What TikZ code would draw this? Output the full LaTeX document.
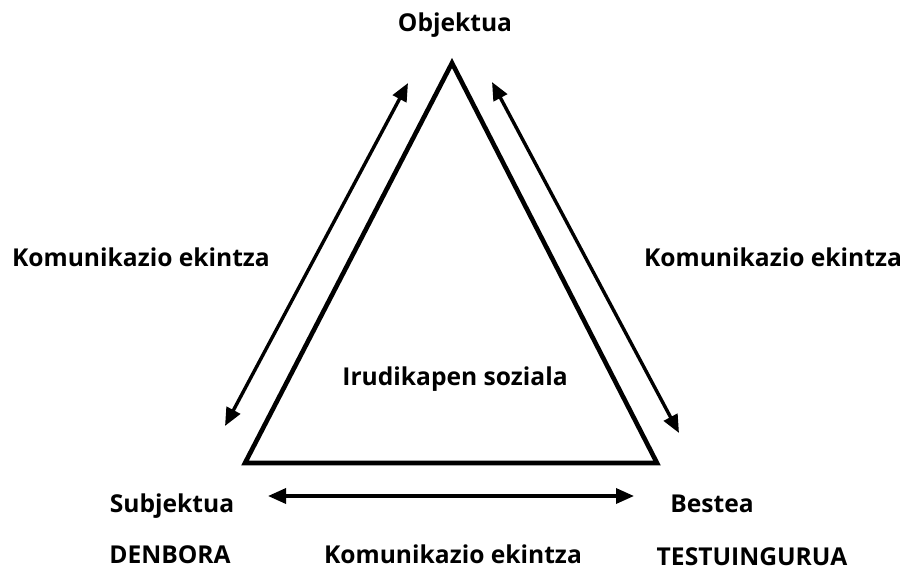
\documentclass[tikz,border=0pt]{standalone}
\usepackage{fontspec}
\setmainfont{Open Sans}
\usetikzlibrary{arrows.meta}
\begin{document}
\begin{tikzpicture}[x=1pt,y=-1pt,
  lbl/.style={font=\bfseries\fontsize{24.6}{28}\selectfont, inner sep=0pt, anchor=base},
  tri/.style={line width=4.6pt, line join=miter},
  dbl/.style={line width=3.4pt, {Triangle[length=18pt,width=15pt]}-{Triangle[length=18pt,width=15pt]}}]
\useasboundingbox (0,0) rectangle (907,576);
\coordinate (top) at (452,63);
\coordinate (bl) at (245,463);
\coordinate (br) at (657,463);
\draw[tri] (top) -- (bl) -- (br) -- cycle;
\coordinate (la) at (225,426);
\coordinate (lb) at (408,83);
\coordinate (ra) at (492,82);
\coordinate (rb) at (679,433);
\coordinate (ba) at (268,496);
\coordinate (bb) at (634,496);
\draw[dbl] (la) -- (lb);
\draw[dbl] (ra) -- (rb);
\draw[dbl] (ba) -- (bb);
\node[lbl] (obj) at (455,31) {Objektua};
\node[lbl] (kl) at (141,266) {Komunikazio ekintza};
\node[lbl] (kr) at (773,266) {Komunikazio ekintza};
\node[lbl] (iru) at (455,385) {Irudikapen soziala};
\node[lbl] (sub) at (172,512) {Subjektua};
\node[lbl] (bes) at (712,512) {Bestea};
\node[lbl] (den) at (170,563) {DENBORA};
\node[lbl] (kb) at (453,563) {Komunikazio ekintza};
\node[lbl] (tes) at (752,565) {TESTUINGURUA};
\end{tikzpicture}
\end{document}
